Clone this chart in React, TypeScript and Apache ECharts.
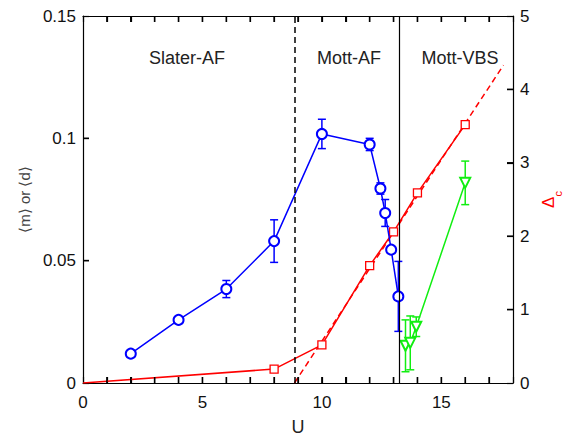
import React, { useEffect, useRef } from "react";
import * as echarts from "echarts";

// order parameter <m> (blue, left axis)
const U_m = [2, 4, 6, 8, 10, 12, 12.45, 12.65, 12.9, 13.2];
const m_val = [0.012, 0.0258, 0.0384, 0.058, 0.1018, 0.0975, 0.0795, 0.0695, 0.0545, 0.0354];
const m_err = [0.0008, 0.001, 0.0035, 0.0087, 0.006, 0.0025, 0.0023, 0.0055, 0.001, 0.0143];

// charge gap Delta_c (red, right axis)
const U_c = [0, 8, 10, 12, 13, 14, 16];
const delta_c = [0, 0.19, 0.52, 1.6, 2.06, 2.59, 3.52];

// extrapolation of Delta_c (red dashed)
const U_fit = [8.85, 17.6];
const delta_fit = [0, 4.33];

// dimer order <d> (green, left axis)
const U_d = [13.5, 13.7, 13.95, 16];
const d_val = [0.0152, 0.0164, 0.023, 0.0818];
const d_err = [0.0106, 0.011, 0.004, 0.0089];

// phase boundaries
const U_bounds = [8.85, 13.25];
const phaseLabels = ["Slater-AF", "Mott-AF", "Mott-VBS"];
const phaseLabelU = [4.35, 11.13, 15.78];

// ticks
const xTicks = [0, 5, 10, 15];
const xTickMarks = [1, 2, 3, 4, 5, 6, 7, 8, 9, 10, 11, 12, 13, 14, 15, 16, 17];
const yLeftTicks = [0, 0.05, 0.1, 0.15];
const yLeftTickMarks = [0.05, 0.1];
const yRightTicks = [0, 1, 2, 3, 4, 5];
const yRightTickMarks = [1, 2, 3, 4];

const TICK_LEN = 6;
const TICK_W = 1.5;

function errorSeries(xs: number[], ys: number[], es: number[], color: string, yAxisIndex: number) {
  return {
    type: "custom",
    yAxisIndex,
    silent: true,
    z: 3,
    data: xs.map((x, i) => [x, ys[i] - es[i], ys[i] + es[i]]),
    renderItem: (params: any, api: any) => {
      const lo = api.coord([api.value(0), api.value(1)]);
      const hi = api.coord([api.value(0), api.value(2)]);
      const w = 4;
      const style = { stroke: color, lineWidth: 1.5 };
      return {
        type: "group",
        children: [
          { type: "line", shape: { x1: lo[0], y1: lo[1], x2: hi[0], y2: hi[1] }, style },
          { type: "line", shape: { x1: lo[0] - w, y1: lo[1], x2: lo[0] + w, y2: lo[1] }, style },
          { type: "line", shape: { x1: hi[0] - w, y1: hi[1], x2: hi[0] + w, y2: hi[1] }, style },
        ],
      };
    },
  };
}

export default function App() {
  const ref = useRef<HTMLDivElement>(null);
  useEffect(() => {
    if (!ref.current) return;
    const chart = echarts.init(ref.current, null, { renderer: "svg" });
    const font = "Liberation Sans, Arial, sans-serif";
    const mkAxisLine = () => ({ show: true, onZero: false, lineStyle: { color: "#000", width: 1.2 } });
    const mkTick = () => ({ show: true, inside: true, length: TICK_LEN, lineStyle: { color: "#000", width: 1.2 } });
    const phaseGraphics = (px: (u: number) => number) =>
      phaseLabels.map((t, i) => ({
        type: "text",
        x: px(phaseLabelU[i]),
        y: 58,
        style: {
          text: t,
          fill: "#222",
          fontSize: 18,
          fontFamily: font,
          align: "center",
          verticalAlign: "middle",
        },
      }));
    chart.setOption({
      animation: false,
      backgroundColor: "#fff",
      grid: { left: 83, right: 50, top: 16, bottom: 55, containLabel: false, outerBoundsMode: "none" },
      xAxis: [
        {
          type: "value",
          min: 0,
          max: 18,
          interval: 1,
          axisLine: mkAxisLine(),
          splitLine: { show: false },
          axisTick: mkTick(),
          axisLabel: {
            color: "#111",
            fontSize: 17,
            fontFamily: font,
            margin: 11,
            formatter: (v: number) => (xTicks.includes(v) ? String(v) : ""),
          },
          name: "U",
          nameLocation: "middle",
          nameGap: 35,
          nameTextStyle: { color: "#222", fontSize: 18, fontFamily: font },
        },
        {
          type: "value",
          position: "top",
          min: 0,
          max: 18,
          interval: 1,
          axisLine: mkAxisLine(),
          splitLine: { show: false },
          axisTick: mkTick(),
          axisLabel: { show: false },
        },
      ],
      yAxis: [
        {
          type: "value",
          min: 0,
          max: 0.15,
          interval: 0.05,
          axisLine: mkAxisLine(),
          splitLine: { show: false },
          axisTick: mkTick(),
          axisLabel: {
            color: "#111",
            fontSize: 17,
            fontFamily: font,
            margin: 7,
            formatter: (v: number) => {
              const t = yLeftTicks.find((k) => Math.abs(k - v) < 1e-9);
              return t === undefined ? "" : String(t);
            },
          },
          name: "\u27E8m\u27E9 or \u27E8d\u27E9",
          nameLocation: "middle",
          nameRotate: 90,
          nameGap: 43,
          nameTextStyle: { color: "#444", fontSize: 15, fontFamily: font },
        },
        {
          type: "value",
          position: "right",
          min: 0,
          max: 5,
          interval: 1,
          axisLine: mkAxisLine(),
          splitLine: { show: false },
          axisTick: mkTick(),
          axisLabel: {
            color: "#111",
            fontSize: 17,
            fontFamily: font,
            margin: 7,
            formatter: (v: number) => (yRightTicks.includes(v) ? String(v) : ""),
          },
          name: "{a|\u0394}{b|c}",
          nameLocation: "middle",
          nameRotate: 90,
          nameGap: 27,
          nameTextStyle: {
            color: "#ff0000",
            fontFamily: font,
            rich: {
              a: { fontSize: 17, color: "#ff0000", fontFamily: font },
              b: { fontSize: 11, color: "#ff0000", fontFamily: font, verticalAlign: "bottom", padding: [0, 0, -6, 0] },
            },
          },
        },
      ],
      series: [
        {
          type: "line",
          yAxisIndex: 0,
          data: [[0, 0]],
          symbol: "none",
          silent: true,
          lineStyle: { opacity: 0 },
          markLine: {
            silent: true,
            symbol: ["none", "none"],
            label: { show: false },
            data: [
              { xAxis: U_bounds[0], lineStyle: { color: "#000", type: [6, 4], width: 1.5 } },
              { xAxis: U_bounds[1], lineStyle: { color: "#000", type: "solid", width: 1.2 } },
            ],
          },
        },
        {
          type: "line",
          yAxisIndex: 1,
          data: U_fit.map((u, i) => [u, delta_fit[i]]),
          symbol: "none",
          lineStyle: { color: "#ff0000", width: 1.5, type: [6, 4] },
          z: 2,
        },
        {
          type: "line",
          yAxisIndex: 1,
          data: U_c.map((u, i) => ({ value: [u, delta_c[i]], symbol: i === 0 ? "none" : "rect" })),
          symbol: "rect",
          symbolSize: 8,
          itemStyle: { color: "#fff", borderColor: "#ff0000", borderWidth: 1.3 },
          lineStyle: { color: "#ff0000", width: 1.5 },
          z: 3,
        },
        errorSeries(U_m, m_val, m_err, "#0000ff", 0),
        {
          type: "line",
          yAxisIndex: 0,
          data: U_m.map((u, i) => [u, m_val[i]]),
          symbol: "emptyCircle",
          symbolSize: 10,
          itemStyle: { color: "#0000ff", borderWidth: 1.3 },
          lineStyle: { color: "#0000ff", width: 1.5 },
          z: 4,
        },
        errorSeries(U_d, d_val, d_err, "#11ee11", 0),
        {
          type: "line",
          yAxisIndex: 0,
          data: U_d.map((u, i) => [u, d_val[i]]),
          symbol: "emptyTriangle",
          symbolRotate: 180,
          symbolSize: 10,
          itemStyle: { color: "#11ee11", borderWidth: 1.3 },
          lineStyle: { color: "#11ee11", width: 1.5 },
          z: 4,
        },
      ],
    });

    // tick marks placed through the chart's own scales
    const toPx = (ax: number, u: number, v: number) =>
      chart.convertToPixel({ xAxisIndex: 0, yAxisIndex: ax }, [u, v]) as number[];
    const bottomY = toPx(0, 0, 0)[1];
    const topY = toPx(0, 0, 0.15)[1];
    const leftX = toPx(0, 0, 0)[0];
    const rightX = toPx(0, 18, 0)[0];
    const tickStyle = { fill: "#000" };
    const ticks: any[] = [];
    xTickMarks.forEach((u) => {
      const x = toPx(0, u, 0)[0];
      ticks.push({ type: "rect", z: 100, shape: { x: x - TICK_W / 2, y: bottomY - TICK_LEN, width: TICK_W, height: TICK_LEN }, style: tickStyle });
      ticks.push({ type: "rect", z: 100, shape: { x: x - TICK_W / 2, y: topY, width: TICK_W, height: TICK_LEN }, style: tickStyle });
    });
    yLeftTickMarks.forEach((v) => {
      const y = toPx(0, 0, v)[1];
      ticks.push({ type: "rect", z: 100, shape: { x: leftX, y: y - TICK_W / 2, width: TICK_LEN, height: TICK_W }, style: tickStyle });
    });
    yRightTickMarks.forEach((v) => {
      const y = toPx(1, 0, v)[1];
      ticks.push({ type: "rect", z: 100, shape: { x: rightX - TICK_LEN, y: y - TICK_W / 2, width: TICK_LEN, height: TICK_W }, style: tickStyle });
    });
    chart.setOption({
      graphic: [...phaseGraphics((u) => toPx(0, u, 0)[0]), ...ticks],
    });
    return () => chart.dispose();
  }, []);
  return (
    <div
      ref={ref}
      style={{ position: "absolute", left: 0, top: 0, width: 563, height: 438 }}
    />
  );
}
